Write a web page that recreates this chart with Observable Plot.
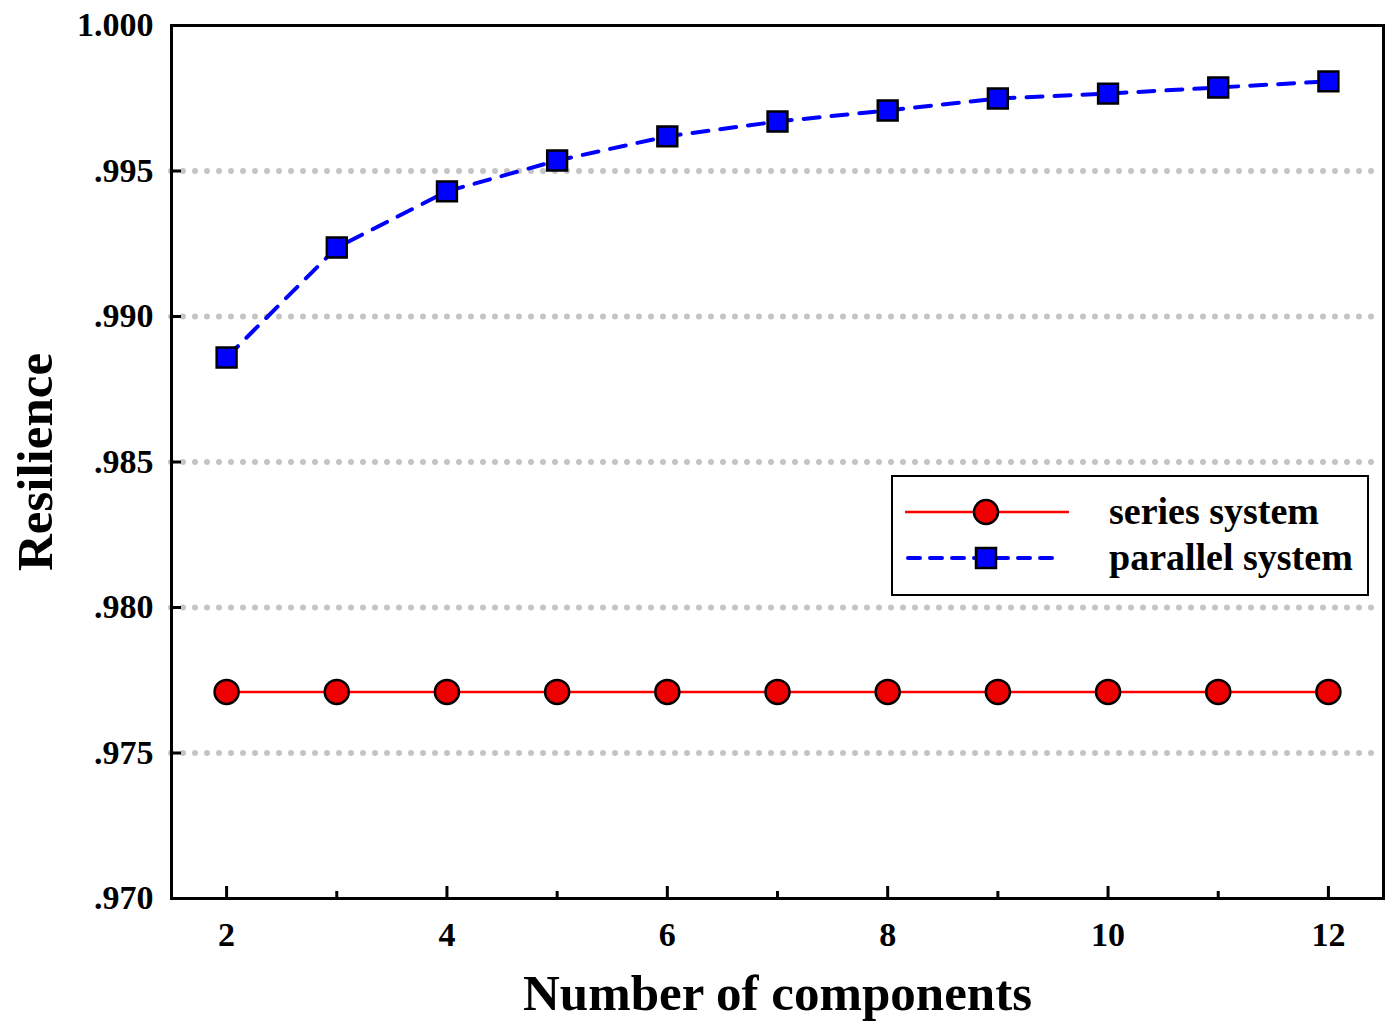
<!DOCTYPE html>
<html>
<head>
<meta charset="utf-8">
<script src="https://cdn.jsdelivr.net/npm/d3@7"></script>
<script src="https://cdn.jsdelivr.net/npm/@observablehq/plot@0.6"></script>
<style>
  html, body { margin: 0; padding: 0; background: #fff; }
  #wrap { position: relative; width: 1393px; height: 1028px; font-family: "Liberation Serif", "Times New Roman", serif; }
  #legend { position: absolute; left: 891px; top: 475px; }
</style>
</head>
<body>
<div id="wrap"></div>
<script>
// ---- data ----
const components = [2, 3, 4, 5, 6, 7, 8, 9, 10, 11, 12];
const seriesResilience = [0.9771, 0.9771, 0.9771, 0.9771, 0.9771, 0.9771, 0.9771, 0.9771, 0.9771, 0.9771, 0.9771];
const parallelResilience = [0.98859, 0.99237, 0.99430, 0.99536, 0.99619, 0.99670, 0.99708, 0.99749, 0.99766, 0.99787, 0.99808];
const yTicks = [0.970, 0.975, 0.980, 0.985, 0.990, 0.995, 1.000];
const gridTicks = [0.975, 0.980, 0.985, 0.990, 0.995];
const xMajorTicks = [2, 4, 6, 8, 10, 12];
const xMinorTicks = [3, 5, 7, 9, 11];
const seriesNames = ["series system", "parallel system"];

const seriesData = components.map((c, i) => ({x: c, y: seriesResilience[i]}));
const parallelData = components.map((c, i) => ({x: c, y: parallelResilience[i]}));

const fmtY = d => d >= 1 ? d3.format(".3f")(d) : d3.format(".3f")(d).replace(/^0/, "");

const plot = Plot.plot({
  width: 1393,
  height: 1028,
  marginLeft: 171,
  marginTop: 25,
  marginRight: 10,
  marginBottom: 130,
  style: {fontFamily: '"Liberation Serif", "Times New Roman", serif', fontWeight: "bold", color: "#000", background: "#fff"},
  x: {domain: [1.5, 12.5]},
  y: {domain: [0.970, 1.000]},
  marks: [
    Plot.gridY(gridTicks, {stroke: "#c4c4c4", strokeOpacity: 1, strokeWidth: 6, strokeDasharray: "0,12", strokeLinecap: "round"}),
    Plot.line(seriesData, {x: "x", y: "y", stroke: "#ff0000", strokeWidth: 2.5}),
    Plot.line(parallelData, {x: "x", y: "y", stroke: "#0000ff", strokeWidth: 4, strokeDasharray: "16,12", strokeLinecap: "round"}),
    Plot.dot(seriesData, {x: "x", y: "y", r: 12, fill: "#ee0000", stroke: "#000", strokeWidth: 2.5}),
    Plot.dot(parallelData, {x: "x", y: "y", r: 11.2, symbol: "square", fill: "#0000ff", stroke: "#000", strokeWidth: 2.5}),
    Plot.frame({stroke: "#000", strokeWidth: 3}),
    // inward tick marks
    Plot.axisY(yTicks, {anchor: "left", tickSize: 10, dx: 10, strokeWidth: 3, tickFormat: () => "", label: null}),
    Plot.axisX(xMinorTicks, {anchor: "bottom", tickSize: 7, dy: -7, strokeWidth: 3, tickFormat: () => "", label: null}),
    Plot.axisX(xMajorTicks, {anchor: "bottom", tickSize: 12, dy: -12, strokeWidth: 3, tickFormat: () => "", label: null}),
    // labels
    Plot.axisY(yTicks, {anchor: "left", tickSize: 0, tickPadding: 18, tickFormat: fmtY,
      label: "Resilience", labelAnchor: "center", labelOffset: 156, labelArrow: "none"}),
    Plot.axisX(xMajorTicks, {anchor: "bottom", tickSize: 0, tickPadding: 23, tickFormat: d => String(d),
      label: "Number of components", labelAnchor: "center", labelOffset: 111, labelArrow: "none"})
  ]
});

const svg = d3.select(plot);
svg.selectAll("g[aria-label='y-axis tick label'] text, g[aria-label='x-axis tick label'] text").style("font-size", "34px");
svg.selectAll("g[aria-label='y-axis tick label'], g[aria-label='x-axis tick label']").style("font-size", "34px");
svg.selectAll("g[aria-label='x-axis label'], g[aria-label='y-axis label']").style("font-size", "51px");

const wrap = document.getElementById("wrap");
wrap.appendChild(plot);

// ---- legend ----
const W = 478, H = 121;
const leg = d3.create("svg").attr("id", "legend").attr("width", W).attr("height", H)
  .style("font-family", '"Liberation Serif", "Times New Roman", serif').style("font-weight", "bold");
leg.append("rect").attr("x", 1).attr("y", 1).attr("width", W - 2).attr("height", H - 2)
  .attr("fill", "#fff").attr("stroke", "#000").attr("stroke-width", 2);
// series row
leg.append("line").attr("x1", 14).attr("x2", 178).attr("y1", 37).attr("y2", 37).attr("stroke", "#ff0000").attr("stroke-width", 2.5);
leg.append("circle").attr("cx", 95).attr("cy", 37).attr("r", 12).attr("fill", "#ee0000").attr("stroke", "#000").attr("stroke-width", 2.5);
// parallel row
leg.append("line").attr("x1", 17).attr("x2", 162).attr("y1", 83).attr("y2", 83).attr("stroke", "#0000ff").attr("stroke-width", 4)
  .attr("stroke-dasharray", "12,10").attr("stroke-linecap", "round");
leg.append("rect").attr("x", 85).attr("y", 73).attr("width", 20).attr("height", 20).attr("fill", "#0000ff").attr("stroke", "#000").attr("stroke-width", 2.5);
leg.append("text").attr("x", 218).attr("y", 49).attr("font-size", 38).text(seriesNames[0]);
leg.append("text").attr("x", 218).attr("y", 95).attr("font-size", 38).text(seriesNames[1]);
wrap.appendChild(leg.node());
</script>
</body>
</html>
